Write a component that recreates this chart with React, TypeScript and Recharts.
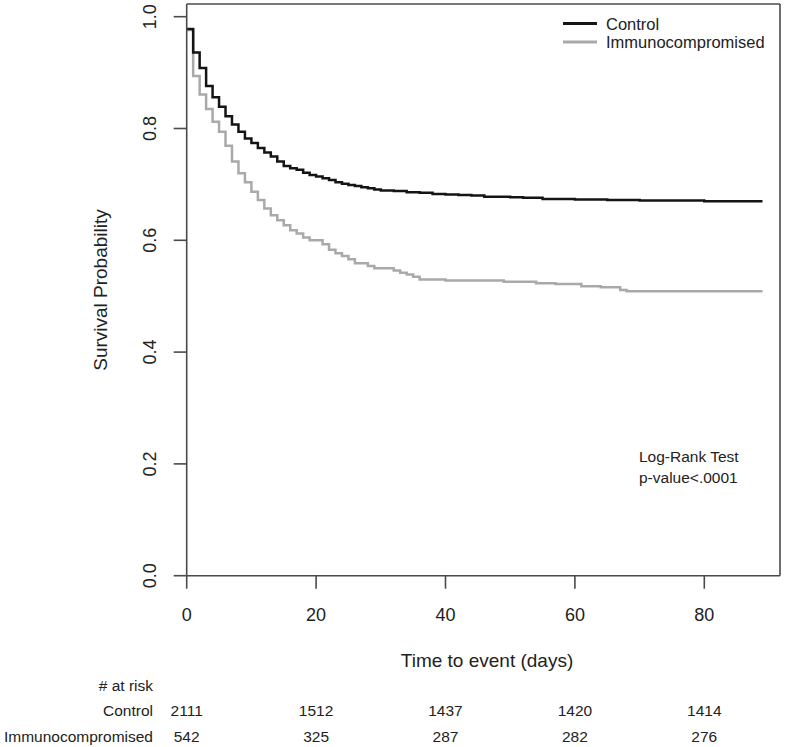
import React from 'react';
import { LineChart, Line, XAxis, YAxis, ReferenceLine } from 'recharts';

// ---- data ----
const controlDays = [0, 1, 2, 3, 4, 5, 6, 7, 8, 9, 10, 11, 12, 13, 14, 15, 16, 17, 18, 19, 20, 21, 22, 23, 24, 25, 26, 27, 28, 29, 30, 32, 34, 36, 38, 40, 42, 44, 46, 48, 50, 52, 55, 60, 65, 70, 75, 80, 89];
const controlSurv = [0.978, 0.936, 0.908, 0.876, 0.856, 0.839, 0.822, 0.807, 0.794, 0.782, 0.774, 0.765, 0.757, 0.75, 0.741, 0.733, 0.729, 0.726, 0.721, 0.717, 0.714, 0.711, 0.708, 0.704, 0.701, 0.699, 0.697, 0.695, 0.693, 0.691, 0.689, 0.688, 0.686, 0.685, 0.683, 0.682, 0.681, 0.68, 0.678, 0.678, 0.677, 0.676, 0.674, 0.673, 0.672, 0.671, 0.671, 0.67, 0.67];

const immunoDays = [0, 1, 2, 3, 4, 5, 6, 7, 8, 9, 10, 11, 12, 13, 14, 15, 16, 17, 18, 19, 21, 22, 23, 24, 25, 26, 28, 29, 32, 33, 34, 35, 36, 40, 49, 54, 57, 61, 64, 67, 68, 89];
const immunoSurv = [0.976, 0.894, 0.861, 0.835, 0.812, 0.794, 0.769, 0.741, 0.72, 0.704, 0.687, 0.672, 0.657, 0.645, 0.636, 0.627, 0.618, 0.612, 0.605, 0.6, 0.593, 0.583, 0.577, 0.572, 0.566, 0.559, 0.554, 0.55, 0.546, 0.542, 0.539, 0.535, 0.53, 0.528, 0.526, 0.523, 0.522, 0.518, 0.516, 0.511, 0.509, 0.509];

const seriesNames = ['Control', 'Immunocompromised'];
const xTicks = [0, 20, 40, 60, 80];
const yTicks = [0, 0.2, 0.4, 0.6, 0.8, 1.0];
const riskControl = [2111, 1512, 1437, 1420, 1414];
const riskImmuno = [542, 325, 287, 282, 276];
const testLines = ['Log-Rank Test', 'p-value<.0001'];

const controlData = controlDays.map((t, i) => ({ t, s: controlSurv[i] }));
const immunoData = immunoDays.map((t, i) => ({ t, s: immunoSurv[i] }));

const FONT = '"Liberation Sans", Arial, Helvetica, sans-serif';
const TEXT = '#222';
const AXIS = '#4a4a4a';
const C_CONTROL = '#141414';
const C_IMMUNO = '#a9a9a9';

const fmtY = (v: number) => v.toFixed(1);

const XTick = (props: any) => {
  const { x, y, payload } = props;
  const idx = xTicks.indexOf(payload.value);
  return (
    <g fontFamily={FONT} fill={TEXT}>
      <text x={x} y={y + 26} textAnchor="middle" dominantBaseline="central" fontSize={18} fill={TEXT}>
        {payload.value}
      </text>
      <text x={x} y={y + 121.5} textAnchor="middle" dominantBaseline="central" fontSize={15.5} fill={TEXT}>
        {riskControl[idx]}
      </text>
      <text x={x} y={y + 147.5} textAnchor="middle" dominantBaseline="central" fontSize={15.5} fill={TEXT}>
        {riskImmuno[idx]}
      </text>
    </g>
  );
};

const YTick = (props: any) => {
  const { x, y, payload } = props;
  const cx = x - 24;
  return (
    <text
      x={cx}
      y={y}
      transform={`rotate(-90 ${cx} ${y})`}
      textAnchor="middle"
      dominantBaseline="central"
      fontSize={18}
      fontFamily={FONT}
      fill={TEXT}
    >
      {fmtY(payload.value)}
    </text>
  );
};

export default function App() {
  return (
    <div style={{ position: 'absolute', left: 0, top: 0, width: 787, height: 747, background: '#fff' }}>
      <LineChart
        width={787}
        height={747}
        margin={{ top: 4, right: 7, left: 120, bottom: 121.3 }}
      >
        <XAxis
          dataKey="t"
          type="number"
          domain={[0, 91.7]}
          ticks={xTicks}
          allowDataOverflow
          height={50}
          tickSize={13}
          tickMargin={0}
          tick={<XTick />}
          axisLine={{ stroke: AXIS, strokeWidth: 1.6 }}
          tickLine={{ stroke: AXIS, strokeWidth: 1.6 }}
        />
        <YAxis
          type="number"
          domain={[0, 1.0227]}
          ticks={yTicks}
          allowDataOverflow
          width={66.7}
          tickSize={13}
          tickMargin={0}
          tick={<YTick />}
          axisLine={{ stroke: AXIS, strokeWidth: 1.6 }}
          tickLine={{ stroke: AXIS, strokeWidth: 1.6 }}
        />
        <ReferenceLine y={1.0227} stroke={AXIS} strokeWidth={1.6} ifOverflow="visible" />
        <ReferenceLine x={91.7} stroke={AXIS} strokeWidth={1.6} ifOverflow="visible" />
        <Line
          data={immunoData}
          dataKey="s"
          name={seriesNames[1]}
          type="stepAfter"
          stroke={C_IMMUNO}
          strokeWidth={2.5}
          dot={false}
          isAnimationActive={false}
        />
        <Line
          data={controlData}
          dataKey="s"
          name={seriesNames[0]}
          type="stepAfter"
          stroke={C_CONTROL}
          strokeWidth={2.5}
          dot={false}
          isAnimationActive={false}
        />
      </LineChart>
      <svg
        width={787}
        height={747}
        style={{ position: 'absolute', left: 0, top: 0, pointerEvents: 'none' }}
        fontFamily={FONT}
      >
        {/* legend */}
        <line x1={563} x2={597} y1={23.5} y2={23.5} stroke={C_CONTROL} strokeWidth={2.8} />
        <line x1={563} x2={597} y1={42} y2={42} stroke={C_IMMUNO} strokeWidth={2.8} />
        <text x={606} y={23.5} dominantBaseline="central" fontSize={16.5} fill={TEXT}>{seriesNames[0]}</text>
        <text x={606} y={42} dominantBaseline="central" fontSize={16.5} fill={TEXT}>{seriesNames[1]}</text>
        {/* log-rank */}
        <text x={639} y={456} dominantBaseline="central" fontSize={15.5} fill={TEXT}>{testLines[0]}</text>
        <text x={639} y={477} dominantBaseline="central" fontSize={15.5} fill={TEXT}>{testLines[1]}</text>
        {/* axis titles */}
        <text x={487} y={660} textAnchor="middle" dominantBaseline="central" fontSize={19} fill={TEXT}>
          Time to event (days)
        </text>
        <text x={100} y={290} transform="rotate(-90 100 290)" textAnchor="middle" dominantBaseline="central" fontSize={19} fill={TEXT}>
          Survival Probability
        </text>
        {/* risk table row labels */}
        <text x={153} y={685} textAnchor="end" dominantBaseline="central" fontSize={15.5} fill={TEXT}># at risk</text>
        <text x={153} y={710} textAnchor="end" dominantBaseline="central" fontSize={15.5} fill={TEXT}>{seriesNames[0]}</text>
        <text x={153} y={736} textAnchor="end" dominantBaseline="central" fontSize={15.5} fill={TEXT}>{seriesNames[1]}</text>
      </svg>
    </div>
  );
}
